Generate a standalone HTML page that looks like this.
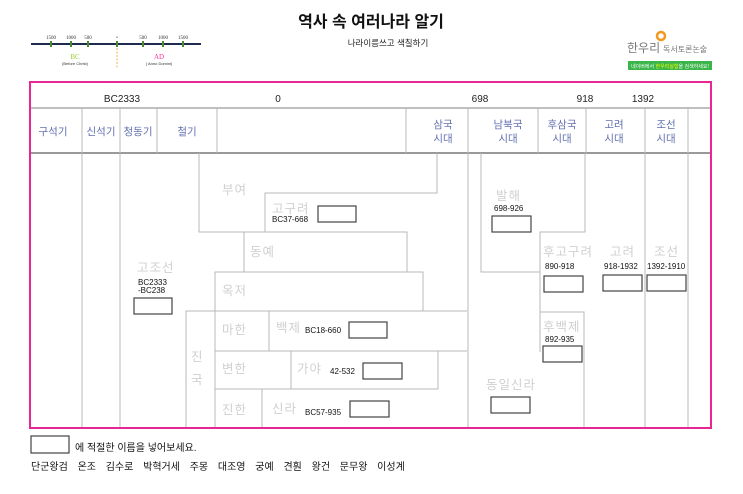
<!DOCTYPE html>
<html><head><meta charset="utf-8"><style>
html,body{margin:0;padding:0;background:#fff;}
svg{display:block;font-family:"Liberation Sans","Noto Sans CJK KR",sans-serif;}
.g{fill:#d0d0d0;font-size:12.5px;letter-spacing:1px;}
.s{fill:#111;font-size:8px;}
.h{fill:#6270b0;font-size:10.5px;text-anchor:middle;}
.b{fill:#fff;stroke:#444;stroke-width:1.2;}
.l{stroke:#b8b8b8;stroke-width:1;fill:none;}
</style></head><body>
<svg width="743" height="494" viewBox="0 0 743 494" xmlns="http://www.w3.org/2000/svg">
<text x="371" y="27" text-anchor="middle" font-size="16" font-weight="bold" fill="#111">역사 속 여러나라 알기</text>
<text x="388" y="46" text-anchor="middle" font-size="8.5" fill="#222">나라이름쓰고 색칠하기</text>
<!-- timeline -->
<line x1="31" y1="44" x2="201" y2="44" stroke="#1e2a50" stroke-width="2"/>
<g fill="#4a8a2a"><rect x="50" y="41" width="2" height="6"/><rect x="70" y="41" width="2" height="6"/><rect x="87" y="41" width="2" height="6"/><rect x="116" y="41" width="2" height="6"/><rect x="142" y="41" width="2" height="6"/><rect x="162" y="41" width="2" height="6"/><rect x="182" y="41" width="2" height="6"/></g>
<g font-size="5" fill="#333" text-anchor="middle" font-family="Liberation Serif,serif"><text x="51" y="39">1500</text><text x="71" y="39">1000</text><text x="88" y="39">500</text><text x="117" y="39">•</text><text x="143" y="39">500</text><text x="163" y="39">1000</text><text x="183" y="39">1500</text></g>
<line x1="117" y1="48" x2="117" y2="69" stroke="#f0a030" stroke-width="0.8" stroke-dasharray="2,1.5"/>
<text x="75" y="59" font-size="7" fill="#9acd32" text-anchor="middle" font-family="Liberation Serif,serif">BC</text>
<text x="75" y="65" font-size="4" fill="#333" text-anchor="middle">(Before Christ)</text>
<text x="159" y="59" font-size="7" fill="#ff3399" text-anchor="middle" font-family="Liberation Serif,serif">AD</text>
<text x="159" y="65" font-size="4" fill="#333" text-anchor="middle">( Anno Domini)</text>
<!-- logo -->
<circle cx="661" cy="36" r="4" fill="none" stroke="#f39a1e" stroke-width="2.5"/>
<text x="627" y="52" font-size="12" fill="#777">한우리</text>
<text x="663" y="52" font-size="8" fill="#777">독서토론논술</text>
<rect x="628" y="61" width="84" height="9" fill="#3ab54a"/>
<text x="670" y="68" font-size="5" fill="#fff" text-anchor="middle">네이버에서 <tspan fill="#ff0">한우리실험</tspan>을 검색하세요!</text>
<!-- table frame -->
<line x1="30" y1="108" x2="711" y2="108" stroke="#999" stroke-width="1.2"/>
<line x1="30" y1="153" x2="711" y2="153" stroke="#999" stroke-width="2"/>
<g font-size="10" fill="#222" text-anchor="middle"><text x="122" y="102">BC2333</text><text x="278" y="102">0</text><text x="480" y="102">698</text><text x="585" y="102">918</text><text x="643" y="102">1392</text></g>
<g class="l">
<path d="M82 108V428M120 108V428M157 108V153M217 108V153M406 108V153M468 108V428M538 108V153M586 108V153M645 108V428M688 108V428"/>
<path d="M199 153V232H265V193H437V153"/>
<path d="M244 272V232H407V272"/>
<path d="M215 428V272H423V311"/>
<path d="M186 428V311H467M269 311V351M215 351H467M291 351V389M438 351V389M215 389H438M262 389V428"/>
<path d="M481 153V272H540M585 153V232H540V352M540 312H584V428"/>
</g>
<g class="h"><text x="53" y="135">구석기</text><text x="101" y="135">신석기</text><text x="138" y="135">청동기</text><text x="187" y="135">철기</text>
<text x="443" y="128">삼국</text><text x="443" y="142">시대</text>
<text x="508" y="128">남북국</text><text x="508" y="142">시대</text>
<text x="562" y="128">후삼국</text><text x="562" y="142">시대</text>
<text x="614" y="128">고려</text><text x="614" y="142">시대</text>
<text x="666" y="128">조선</text><text x="666" y="142">시대</text></g>
<rect x="30" y="82" width="681" height="346" fill="none" stroke="#ea2594" stroke-width="2"/>
<g class="g">
<text x="222" y="194">부여</text><text x="272" y="213">고구려</text><text x="250" y="256">동예</text><text x="222" y="295">옥저</text>
<text x="137" y="272">고조선</text><text x="222" y="334">마한</text><text x="276" y="332">백제</text>
<text x="191" y="361">진</text><text x="191" y="384">국</text>
<text x="222" y="373">변한</text><text x="297" y="373">가야</text><text x="222" y="414">진한</text><text x="272" y="413">신라</text>
<text x="496" y="200">발해</text><text x="543" y="256">후고구려</text><text x="610" y="256">고려</text><text x="654" y="256">조선</text>
<text x="543" y="331">후백제</text><text x="486" y="389">동일신라</text>
</g>
<g class="s">
<text x="272" y="222">BC37-668</text><text x="138" y="285">BC2333</text><text x="138" y="293">-BC238</text>
<text x="305" y="333">BC18-660</text><text x="330" y="374">42-532</text><text x="305" y="415">BC57-935</text>
<text x="494" y="211">698-926</text><text x="545" y="269">890-918</text><text x="604" y="269">918-1932</text><text x="647" y="269">1392-1910</text><text x="545" y="342">892-935</text>
</g>
<g class="b">
<rect x="318" y="206" width="38" height="16"/><rect x="134" y="298" width="38" height="16"/>
<rect x="349" y="322" width="38" height="16"/><rect x="363" y="363" width="39" height="16"/><rect x="350" y="401" width="39" height="16"/>
<rect x="492" y="216" width="39" height="16"/><rect x="544" y="276" width="39" height="16"/><rect x="603" y="275" width="39" height="16"/><rect x="647" y="275" width="39" height="16"/>
<rect x="543" y="346" width="39" height="16"/><rect x="491" y="397" width="39" height="16"/>
<rect x="31" y="436" width="38" height="17"/>
</g>
<text x="75" y="451" font-size="10" fill="#111">에 적절한 이름을 넣어보세요.</text>
<text x="31" y="470" font-size="10" fill="#111" word-spacing="7">단군왕검 온조 김수로 박혁거세 주몽 대조영 궁예 견훤 왕건 문무왕 이성계</text>
</svg>
</body></html>
